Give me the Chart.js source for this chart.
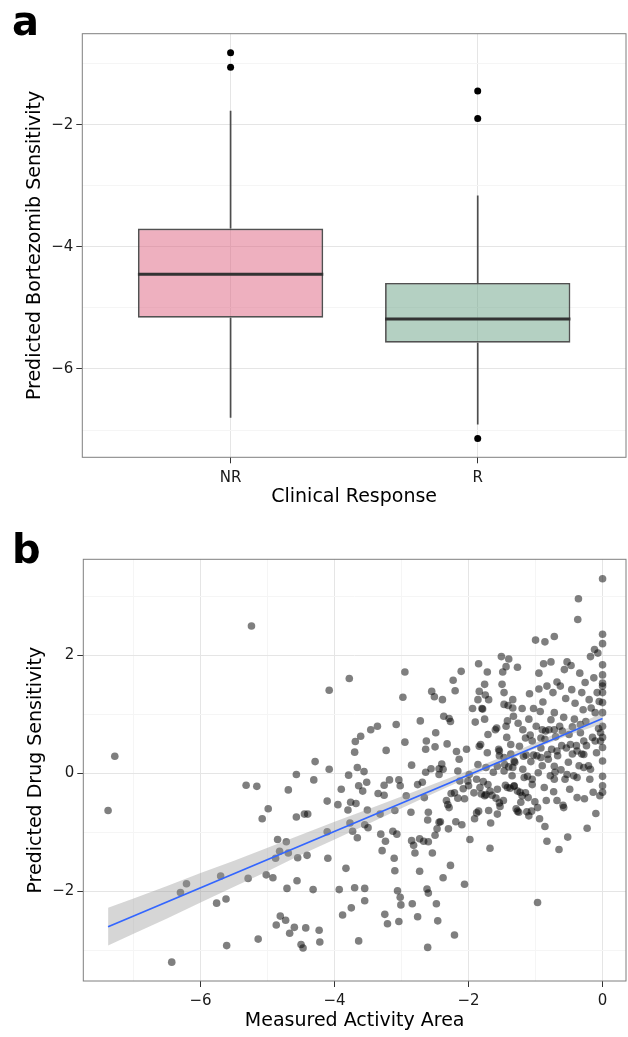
<!DOCTYPE html>
<html>
<head>
<meta charset="utf-8">
<script src="https://cdn.jsdelivr.net/npm/chart.js@4.4.1/dist/chart.umd.min.js"></script>
<style>
  html, body { margin: 0; padding: 0; background: #fff; }
  body { width: 628px; height: 1037px; overflow: hidden; position: relative; font-family: "DejaVu Sans", sans-serif; }
  canvas { position: absolute; left: 0; }
  .panel-label { position: absolute; left: 12px; font-size: 40px; font-weight: bold; line-height: 40px; color: #000; }
</style>
</head>
<body>
<canvas id="box-chart" width="630" height="520" style="top:0"></canvas>
<canvas id="scatter-chart" width="630" height="517" style="top:520px"></canvas>
<div class="panel-label" style="top:1px">a</div>
<div class="panel-label" style="top:529px">b</div>
<script>
// panel a: box plot summary per clinical response group
const categories = ["NR", "R"];
const lowerWhisker = [-6.80, -6.91];
const lowerHinge = [-5.16, -5.57];
const medians = [-4.45, -5.18];
const upperHinge = [-3.70, -4.59];
const upperWhisker = [-1.77, -3.16];
const outlierGroup = [0, 0, 1, 1, 1];
const outlierValues = [-0.82, -1.06, -1.45, -1.90, -7.14];
const boxMajorTicks = [-6, -4, -2];
const boxMinorTicks = [-7, -5, -3, -1];

// panel b: measured activity area vs predicted drug sensitivity
const activityArea = [
  -7.38,-7.28,-6.43,-6.30,-6.21,-5.76,-5.70,-5.62,-5.61,-5.32,
  -5.29,-5.24,-5.16,-5.14,-5.08,-5.02,-4.99,-4.92,-4.88,-4.85,
  -4.82,-4.81,-4.87,-4.73,-4.72,-4.71,-4.69,-4.67,-4.69,-4.60,
  -4.57,-4.57,-4.56,-4.55,-4.50,-4.47,-4.45,-4.43,-4.41,-4.40,
  -4.32,-4.31,-4.29,-4.23,-4.22,-4.11,-4.10,-4.11,-4.08,-4.08,
  -3.95,-3.93,-3.90,-3.88,-3.83,-3.80,-3.79,-3.78,-3.77,-3.76,
  -3.75,-3.73,-3.70,-3.70,-3.69,-3.68,-3.66,-3.66,-3.64,-3.64,
  -3.61,-3.58,-3.56,-3.55,-3.55,-3.55,-3.52,-3.51,-3.50,-3.46,
  -3.36,-3.35,-3.32,-3.31,-3.29,-3.26,-3.26,-3.25,-3.24,-3.23,
  -3.21,-3.18,-3.13,-3.11,-3.10,-3.10,-3.08,-3.07,-3.06,-3.04,
  -3.02,-3.04,-3.02,-3.01,-2.98,-2.95,-2.95,-2.93,-2.86,-2.85,
  -2.85,-2.84,-2.82,-2.80,-2.76,-2.76,-2.73,-2.73,-2.72,-2.69,
  -2.67,-2.66,-2.63,-2.64,-2.64,-2.62,-2.61,-2.61,-2.60,-2.60,
  -2.60,-2.56,-2.55,-2.54,-2.51,-2.50,-2.49,-2.48,-2.47,-2.46,
  -2.44,-2.44,-2.44,-2.40,-2.39,-2.38,-2.37,-2.33,-2.32,-2.31,
  -2.30,-2.29,-2.27,-2.27,-2.23,-2.21,-2.21,-2.20,-2.19,-2.18,
  -2.16,-2.14,-2.13,-2.11,-2.10,-2.08,-2.06,-2.03,-2.01,-2.00,
  -1.98,-1.94,-1.92,-1.91,-1.90,-1.88,-1.88,-1.85,-1.84,-1.82,
  -1.81,-1.80,-1.78,-1.76,-1.76,-1.75,-1.74,-1.72,-1.72,-1.71,
  -1.70,-1.68,-1.68,-1.67,-1.65,-1.63,-1.60,-1.59,-1.57,-1.55,
  -1.54,-1.53,-1.51,-1.50,-1.49,-1.48,-1.47,-1.46,-1.45,-1.44,
  -1.44,-1.43,-1.41,-1.40,-1.40,-1.38,-1.37,-1.37,-1.35,-1.34,
  -1.33,-1.32,-1.31,-1.29,-1.27,-1.26,-1.25,-1.24,-1.23,-1.22,
  -1.20,-1.19,-1.18,-1.17,-1.14,-1.13,-1.11,-1.10,-1.09,-1.08,
  -1.07,-1.05,-1.05,-1.03,-1.03,-1.01,-1.00,-0.99,-0.98,-0.97,
  -0.96,-0.95,-0.95,-0.94,-0.93,-0.92,-0.90,-0.90,-0.89,-0.88,
  -0.87,-0.86,-0.86,-0.84,-0.83,-0.83,-0.81,-0.80,-0.78,-0.77,
  -0.76,-0.74,-0.73,-0.72,-0.72,-0.71,-0.70,-0.68,-0.68,-0.67,
  -0.65,-0.64,-0.63,-0.62,-0.61,-0.59,-0.58,-0.57,-0.56,-0.55,
  -0.54,-0.53,-0.52,-0.51,-0.50,-0.49,-0.47,-0.46,-0.45,-0.43,
  -0.42,-0.41,-0.39,-0.38,-0.37,-0.36,-0.35,-0.34,-0.33,-0.31,
  -0.31,-0.29,-0.27,-0.26,-0.25,-0.24,-0.23,-0.21,-0.20,-0.19,
  -0.18,-0.17,-0.15,-0.14,-0.13,-0.12,-0.11,-0.10,-0.09,-0.08,
  -0.07,-0.06,-0.05,-0.04,
  0,0,0,0,0,0,0,0,0,0,0,0,0,0,0,0,0,
  -2.50,-2.42,-2.29,-1.85,-1.54,-2.26,-2.06,-1.83,-1.76,-1.71,
  -1.57,-1.42,-1.32,-1.27,-1.20,-1.15,-0.58,-1.27,-1.10,-1.06,
  -0.97,-0.86,
  -1.84,-1.58,-1.42,-1.15,-0.85,-0.92,-0.77,-0.72,-0.60,-0.45,
  -0.33,-0.28,-0.11,-0.03,-0.03,-0.28,-0.38,-0.48,-0.68,-0.82,
  -0.92,-1.32,-1.47,-1.54,-1.86,-1.70,-1.79,-1.47,-1.34,
  -2.38,-2.16,-1.99,-1.86,-1.74,-1.57,-1.47,-1.34,-1.19,-1.12,
  -1.05,-0.72,-0.53,-0.38,-0.28,-0.18,-0.72
];
const predictedSensitivity = [
  -0.63,0.29,-3.20,-2.02,-1.87,-2.20,-1.74,-2.13,-2.92,-0.20,
  -1.78,2.50,-0.22,-2.81,-0.77,-1.72,-0.60,-1.77,-1.44,-1.12,
  -1.32,-2.42,-2.57,-2.49,-1.16,-1.95,-1.35,-2.71,-0.28,-2.61,
  -0.02,-0.74,-1.82,-1.43,-2.90,-2.96,-0.69,-2.62,-1.39,-0.69,
  -1.97,-0.11,0.20,-2.66,-2.86,-0.99,-1.44,-0.47,0.07,1.41,
  -0.53,-1.97,-0.27,-2.40,-1.61,-0.62,-0.03,1.61,-0.84,-0.49,
  -2.28,-0.98,-1.94,0.36,0.54,-0.51,-1.09,0.10,-2.84,-0.21,
  0.63,-0.30,0.03,-0.87,-1.95,-2.16,-0.15,-0.62,-0.92,0.74,
  0.80,-0.34,-0.69,-1.03,-1.31,-0.20,-0.37,-2.39,-1.15,0.39,
  -2.55,-0.11,-0.98,-1.44,-0.63,-1.65,0.83,-1.03,-1.99,-0.11,
  -0.21,-2.51,-2.10,-2.23,1.29,1.72,0.53,-0.38,-0.66,-1.14,
  0.14,-2.21,-1.22,-1.35,-0.19,-2.43,-1.11,-1.66,0.89,-0.15,
  -1.15,-0.41,0.55,0.41,0.02,-1.96,-2.95,-0.79,-0.66,-2.03,
  -1.16,0.08,1.39,-1.35,1.30,0.45,0.69,-2.21,-0.94,-2.50,
  -0.83,0.08,-0.02,0.16,1.25,-1.77,0.97,-0.46,0.50,-0.53,
  -0.94,0.93,-1.56,0.88,1.58,-2.74,-0.33,1.40,-0.82,0.37,
  -0.42,0.24,-0.13,1.73,-0.87,-0.26,-1.88,0.41,-0.13,-0.21,
  -1.12,1.10,-0.33,-0.77,0.87,-0.10,-0.67,1.86,1.39,0.49,
  -0.35,1.10,-0.14,0.92,1.51,1.33,-0.36,1.72,0.35,0.66,
  -0.63,-1.27,-0.30,-0.84,-0.37,0.02,0.74,-0.42,-0.69,0.41,
  0.30,-0.56,1.98,1.51,1.72,-0.46,1.37,0.15,-0.20,1.81,
  0.80,0.61,1.15,1.94,0.11,-0.25,0.49,0.33,-0.04,1.25,
  0.97,-0.22,0.19,-0.60,1.80,0.85,-0.66,0.46,-0.32,-0.49,
  1.10,0.74,0.29,-0.07,0.31,-0.65,-0.41,0.92,1.35,0.65,
  0.20,-0.19,0.55,0.31,1.10,-0.48,2.26,0.80,0.30,-2.19,
  0.01,1.70,1.43,-0.77,1.05,0.43,0.13,0.74,1.21,1.86,
  -0.24,0.58,2.23,-0.46,-1.15,1.48,0.24,0.74,-0.04,1.89,
  0.41,1.37,-0.31,2.32,1.03,0.02,0.62,-0.46,1.55,0.30,
  -1.29,0.80,1.48,0.06,0.47,-0.54,0.95,1.76,-0.10,1.27,
  0.43,1.89,-1.08,0.19,0.66,-0.27,1.83,1.42,0.33,-0.04,
  0.92,1.19,0.47,-0.41,2.61,2.96,0.13,1.70,0.69,1.37,
  0.33,1.08,-0.43,1.54,0.88,0.47,-0.93,0.13,1.25,-0.10,
  1.98,1.11,0.61,-0.32,1.62,2.10,1.03,-0.68,0.35,1.37,
  2.04,0.76,1.22,-0.38,
  3.30,2.36,2.20,1.84,1.67,1.53,1.48,1.37,1.20,1.03,0.80,0.61,0.44,0.21,-0.05,-0.21,-0.32,
  -1.05,-0.82,-0.58,-0.64,-0.50,-0.34,-0.43,-0.24,-0.38,-0.19,
  -0.27,-0.24,-0.21,-0.30,-0.38,-0.33,-0.58,-0.64,-0.72,-0.64,
  -0.58,-0.90,
  0.46,0.77,0.89,0.60,0.72,0.60,0.91,0.74,0.72,0.79,
  0.83,0.55,0.55,0.69,0.55,0.32,0.38,0.49,0.38,0.32,
  0.27,0.21,0.27,0.38,1.25,1.25,1.09,1.17,1.11,
  0.07,0.04,-0.02,0.15,0.10,0.12,0.04,0.10,0.07,-0.05,
  -0.10,-0.10,-0.02,-0.07,0.10,0.07,0.12
];
const fitX = [-7.38, 0];
const fitY = [-2.60, 0.93];
const bandX = [-7.38, -7, -6.5, -6, -5.5, -5, -4.5, -4, -3.5, -3, -2.5, -2, -1.5, -1, -0.5, 0];
const bandLower = [-2.92, -2.72, -2.46, -2.19, -1.92, -1.66, -1.38, -1.12, -0.86, -0.59, -0.33, -0.07, 0.18, 0.42, 0.65, 0.84];
const bandUpper = [-2.28, -2.12, -1.91, -1.69, -1.48, -1.26, -1.04, -0.82, -0.61, -0.39, -0.17, 0.05, 0.28, 0.52, 0.78, 1.02];
const activityMajorTicks = [-6, -4, -2, 0];
const activityMinorTicks = [-7, -5, -3, -1];
const sensitivityMajorTicks = [-2, 0, 2];
const sensitivityMinorTicks = [-3, -1, 1, 3];

const BOX_WIDTH = 0.75;
const BOX_FILLS = ["rgba(221, 97, 127, 0.5)", "rgba(105, 161, 133, 0.5)"];

Chart.defaults.font.family = "'DejaVu Sans', sans-serif";
Chart.defaults.animation = false;

const minusFormat = v => (v < 0 ? "\u2212" + Math.abs(v) : String(v));

const panelBorder = {
  id: "panelBorder",
  afterDraw(chart) {
    const { ctx, chartArea: a } = chart;
    ctx.save();
    ctx.strokeStyle = "#7f7f7f";
    ctx.lineWidth = 1;
    ctx.strokeRect(a.left, a.top, a.right - a.left, a.bottom - a.top);
    ctx.restore();
  }
};

function panelAxis(opts) {
  const all = opts.major.concat(opts.minor).sort((a, b) => a - b);
  const isMajor = c => c.tick && opts.major.includes(c.tick.value);
  return {
    type: "linear",
    min: opts.min,
    max: opts.max,
    offset: false,
    afterBuildTicks: s => { s.ticks = all.map(v => ({ value: v })); },
    afterFit: s => {
      if (s.isHorizontal()) s.height = opts.size;
      else s.width = opts.size;
    },
    border: { display: false },
    grid: {
      offset: false,
      color: c => (isMajor(c) ? "#e5e5e5" : "#f5f5f5"),
      tickColor: c => (isMajor(c) ? "#333" : "rgba(0,0,0,0)"),
      tickLength: 6,
      lineWidth: 1
    },
    ticks: {
      autoSkip: false,
      maxRotation: 0,
      padding: opts.tickPad,
      color: "#1a1a1a",
      font: { size: 15 },
      callback: v => (opts.major.includes(v) ? opts.format(v) : "")
    },
    title: {
      display: true,
      text: opts.title,
      color: "#000",
      font: { size: 19 },
      padding: opts.titlePad
    }
  };
}

// panel a
const boxDatasets = [
  {
    type: "line",
    data: categories.flatMap((c, i) => [
      { x: i + 1, y: upperHinge[i] }, { x: i + 1, y: upperWhisker[i] }, { x: i + 1, y: null },
      { x: i + 1, y: lowerHinge[i] }, { x: i + 1, y: lowerWhisker[i] }, { x: i + 1, y: null }
    ]),
    borderColor: "#4d4d4d",
    borderWidth: 1.7,
    pointRadius: 0,
    spanGaps: false,
    order: 4
  },
  {
    type: "bar",
    data: categories.map((c, i) => ({ x: i + 1, y: [lowerHinge[i], upperHinge[i]] })),
    backgroundColor: BOX_FILLS,
    borderColor: "rgba(51, 51, 51, 0.85)",
    borderWidth: 1.7,
    borderSkipped: false,
    barPercentage: BOX_WIDTH,
    categoryPercentage: 1,
    order: 3
  },
  {
    type: "line",
    data: categories.flatMap((c, i) => [
      { x: i + 1 - BOX_WIDTH / 2, y: medians[i] },
      { x: i + 1 + BOX_WIDTH / 2, y: medians[i] },
      { x: i + 1, y: null }
    ]),
    borderColor: "#333",
    borderWidth: 3,
    pointRadius: 0,
    spanGaps: false,
    order: 2
  },
  {
    type: "scatter",
    data: outlierValues.map((v, k) => ({ x: outlierGroup[k] + 1, y: v })),
    backgroundColor: "#000",
    borderWidth: 0,
    pointRadius: 3.5,
    order: 1
  }
];

new Chart(document.getElementById("box-chart"), {
  type: "bar",
  data: { datasets: boxDatasets },
  options: {
    responsive: false,
    events: [],
    layout: { padding: { top: 33.7, right: 1, bottom: 0, left: 0 } },
    plugins: { legend: { display: false }, tooltip: { enabled: false } },
    scales: {
      x: panelAxis({
        min: 0.4, max: 2.6, major: [1, 2], minor: [], size: 62.7, tickPad: 6,
        format: v => categories[v - 1], title: "Clinical Response",
        titlePad: { top: 0, bottom: 11.6 }
      }),
      y: panelAxis({
        min: -7.446, max: -0.51, major: boxMajorTicks, minor: boxMinorTicks, size: 82.3, tickPad: 3,
        format: minusFormat, title: "Predicted Bortezomib Sensitivity",
        titlePad: { top: 23.6, bottom: 0 }
      })
    }
  },
  plugins: [panelBorder]
});

// panel b
new Chart(document.getElementById("scatter-chart"), {
  type: "scatter",
  data: {
    datasets: [
      {
        type: "scatter",
        data: activityArea.map((x, i) => ({ x: x, y: predictedSensitivity[i] })),
        backgroundColor: "rgba(0, 0, 0, 0.5)",
        borderWidth: 0,
        pointRadius: 3.8,
        order: 3
      },
      {
        type: "line",
        data: bandX.map((x, i) => ({ x: x, y: bandLower[i] })),
        borderColor: "rgba(0,0,0,0)",
        pointRadius: 0,
        fill: false,
        order: 2
      },
      {
        type: "line",
        data: bandX.map((x, i) => ({ x: x, y: bandUpper[i] })),
        borderColor: "rgba(0,0,0,0)",
        backgroundColor: "rgba(153, 153, 153, 0.4)",
        pointRadius: 0,
        fill: "-1",
        order: 2
      },
      {
        type: "line",
        data: fitX.map((x, i) => ({ x: x, y: fitY[i] })),
        borderColor: "#3366ff",
        borderWidth: 1.8,
        pointRadius: 0,
        order: 1
      }
    ]
  },
  options: {
    responsive: false,
    events: [],
    layout: { padding: { top: 39.3, right: 1, bottom: 0, left: 0 } },
    plugins: { legend: { display: false }, tooltip: { enabled: false } },
    scales: {
      x: panelAxis({
        min: -7.75, max: 0.35, major: activityMajorTicks, minor: activityMinorTicks, size: 56, tickPad: 5,
        format: minusFormat, title: "Measured Activity Area",
        titlePad: { top: 0, bottom: 4.6 }
      }),
      y: panelAxis({
        min: -3.52, max: 3.63, major: sensitivityMajorTicks, minor: sensitivityMinorTicks, size: 83.3, tickPad: 3,
        format: minusFormat, title: "Predicted Drug Sensitivity",
        titlePad: { top: 24.5, bottom: 0 }
      })
    }
  },
  plugins: [panelBorder]
});
</script>
</body>
</html>
